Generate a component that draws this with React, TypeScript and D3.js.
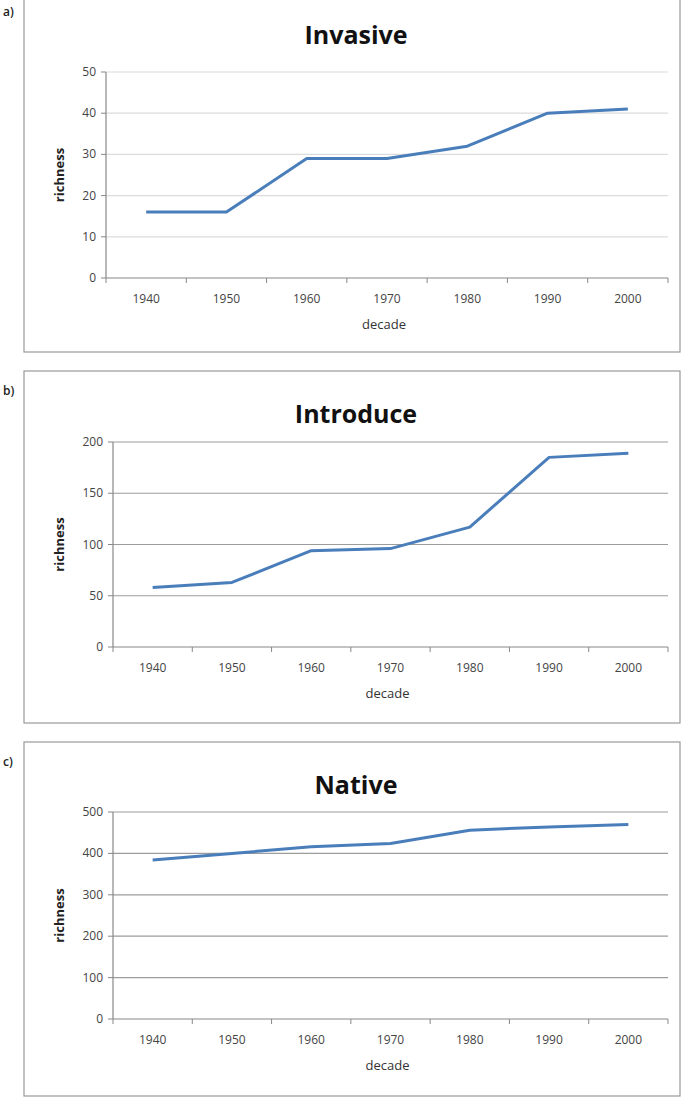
import * as d3 from "d3"

const decades = ["1940", "1950", "1960", "1970", "1980", "1990", "2000"]
const invasive = [16, 16, 29, 29, 32, 40, 41]
const introduce = [58, 63, 94, 96, 117, 185, 189]
const native = [384, 400, 416, 424, 456, 464, 470]
const invasiveTicks = [0, 10, 20, 30, 40, 50]
const introduceTicks = [0, 50, 100, 150, 200]
const nativeTicks = [0, 100, 200, 300, 400, 500]

const FONT = "'Open Sans', 'Noto Sans', sans-serif"

const Panel = ({ tag, title, values, ticks, box, plot, gridColor }) => {
    const x = d3.scaleBand().domain(decades).range([plot.left, plot.right])
    const y = d3.scaleLinear().domain([0, d3.max(ticks)]).range([plot.bottom, plot.top])
    const line = d3.line<number>()
        .x((d, i) => x(decades[i]) + x.bandwidth() / 2)
        .y(d => y(d))
    const boundaries = decades.map(d => x(d)).concat([plot.right])
    const midY = (plot.top + plot.bottom) / 2

    return (
        <g>
            <rect x={box.x} y={box.y} width={box.w} height={box.h} fill="none" stroke="#9a9a9a" strokeWidth={1.2} />
            <text x={3} y={box.y + 24} fontSize={12} fontWeight="600" fontFamily={FONT} fill="#222">{tag}</text>
            <text x={356} y={box.y + 52} textAnchor="middle" fontSize={25} fontWeight="bold" fontFamily={FONT} fill="#111">{title}</text>

            {ticks.filter(t => t > 0).map(t => (
                <line key={t} x1={plot.left} x2={plot.right} y1={y(t)} y2={y(t)} stroke={gridColor} strokeWidth={1.2} />
            ))}
            {ticks.map(t => (
                <g key={"yt" + t}>
                    <line x1={plot.left - 5} x2={plot.left} y1={y(t)} y2={y(t)} stroke="#888" />
                    <text x={plot.left - 10} y={y(t) + 4} textAnchor="end" fontSize={12} fontFamily={FONT} fill="#444">{t}</text>
                </g>
            ))}
            <line x1={plot.left} x2={plot.left} y1={plot.top} y2={plot.bottom} stroke="#888" strokeWidth={1.2} />
            <line x1={plot.left} x2={plot.right} y1={plot.bottom} y2={plot.bottom} stroke="#888" strokeWidth={1.2} />
            {boundaries.map((b, i) => (
                <line key={"xt" + i} x1={b} x2={b} y1={plot.bottom} y2={plot.bottom + 5} stroke="#888" />
            ))}
            {decades.map(d => (
                <text key={d} x={x(d) + x.bandwidth() / 2} y={plot.bottom + 25} textAnchor="middle" fontSize={12} fontFamily={FONT} fill="#444">{d}</text>
            ))}
            <text x={(plot.left + plot.right) / 2 - 3} y={plot.bottom + 51} textAnchor="middle" fontSize={13} fontFamily={FONT} fill="#333">decade</text>
            <text transform={`translate(64,${midY}) rotate(-90)`} textAnchor="middle" fontSize={13} fontWeight="bold" fontFamily={FONT} fill="#222">richness</text>

            <path d={line(values)} fill="none" stroke="#4a7ebb" strokeWidth={3} strokeLinejoin="round" />
        </g>
    )
}

export default function App() {
    return (
        <svg width={689} height={1106} style={{ position: "absolute", left: 0, top: 0, background: "#fff" }}>
            <rect width={689} height={1106} fill="#fff" />
            <Panel tag="a)" title="Invasive" values={invasive} ticks={invasiveTicks}
                box={{ x: 24, y: -8, w: 656, h: 360 }}
                plot={{ left: 106, right: 668, top: 72, bottom: 278 }}
                gridColor="#dcdcdc" />
            <Panel tag="b)" title="Introduce" values={introduce} ticks={introduceTicks}
                box={{ x: 24, y: 371, w: 656, h: 352 }}
                plot={{ left: 113, right: 668, top: 442, bottom: 647 }}
                gridColor="#9c9c9c" />
            <Panel tag="c)" title="Native" values={native} ticks={nativeTicks}
                box={{ x: 24, y: 742, w: 656, h: 354 }}
                plot={{ left: 113, right: 668, top: 812, bottom: 1019 }}
                gridColor="#9c9c9c" />
        </svg>
    )
}
